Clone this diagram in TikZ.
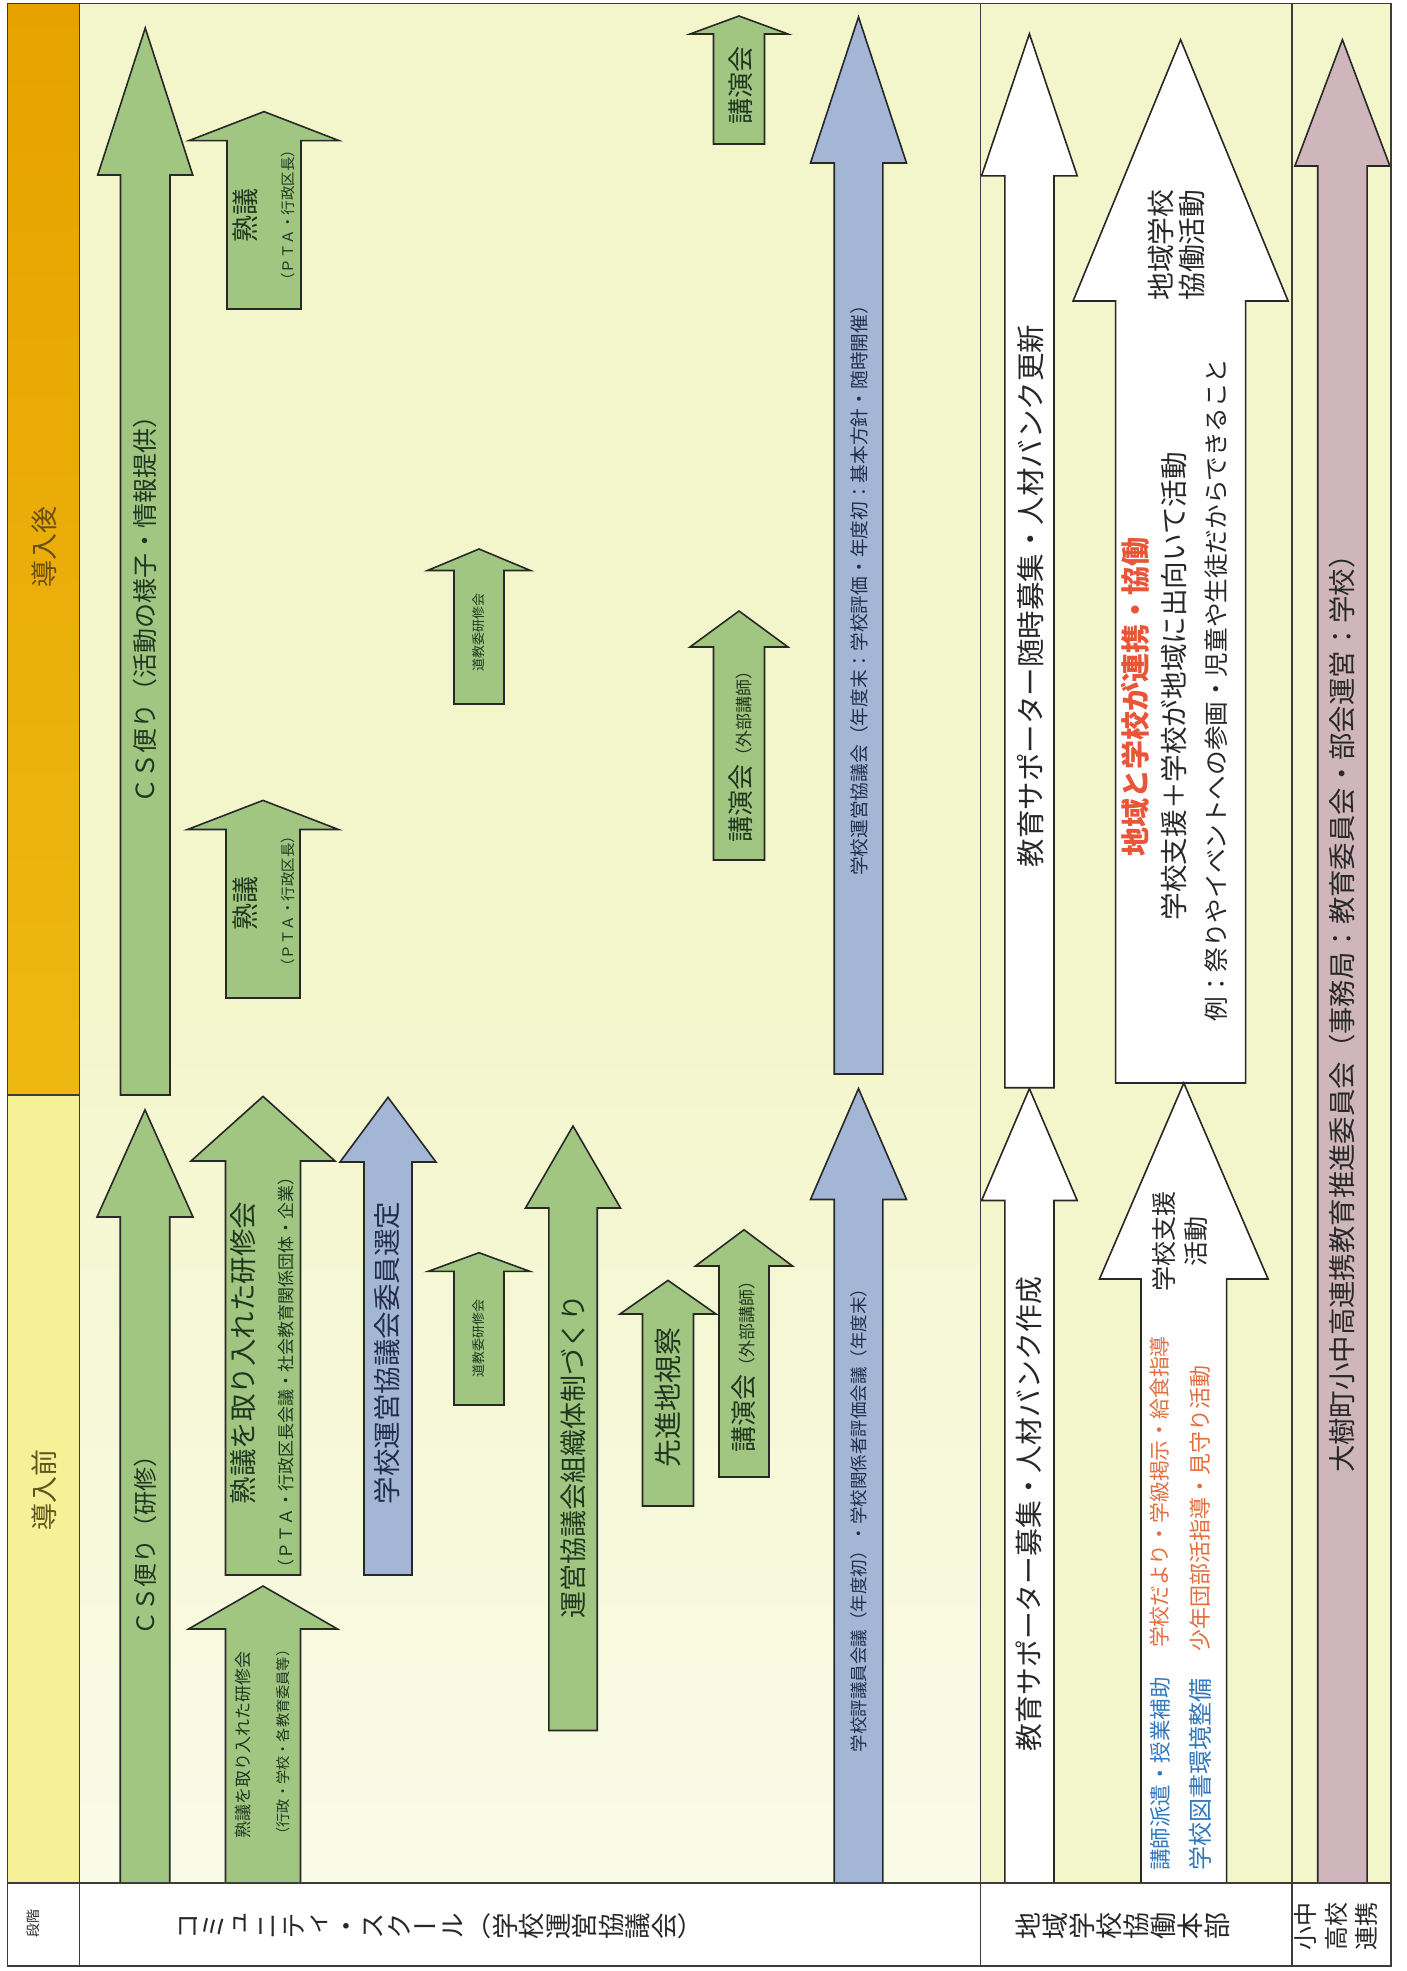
\documentclass[tikz,border=0pt]{standalone}
\usepackage{fontspec}
\setmainfont{Noto Sans CJK JP}
\newfontfamily\tatefont[RawFeature=+vert]{Noto Sans CJK JP}
\usepackage{xcolor}
\usepackage{tikz}

\definecolor{paleyg}{RGB}{243,246,203}
\definecolor{orangeA}{RGB}{231,162,0}
\definecolor{orangeB}{RGB}{238,184,18}
\definecolor{yellowhd}{RGB}{246,240,150}
\definecolor{greenfill}{RGB}{161,198,130}
\definecolor{bluefill}{RGB}{163,182,214}
\definecolor{pinkfill}{RGB}{206,182,188}
\definecolor{edgecol}{RGB}{40,40,40}
\definecolor{gridcol}{RGB}{60,60,60}
\definecolor{inkgray}{RGB}{40,40,40}
\definecolor{inkgreen}{RGB}{30,55,30}
\definecolor{inkblue}{RGB}{35,45,75}
\definecolor{inkred}{RGB}{232,85,55}
\definecolor{inkaqua}{RGB}{50,120,190}
\definecolor{inkorange}{RGB}{225,110,60}
\definecolor{hdbrown}{RGB}{105,80,20}
\definecolor{hdolive}{RGB}{95,85,30}

\newcommand{\fsz}[1]{\fontsize{#1}{#1}\selectfont}
% style, centre x, shaft half width, head half width, tip y, head base y, bottom y
\newcommand{\uparrowbox}[7]{%
  \draw[#1] (#2-#3,#7) -- (#2-#3,#6) -- (#2-#4,#6) -- (#2,#5)
    -- (#2+#4,#6) -- (#2+#3,#6) -- (#2+#3,#7) -- cycle;}

\begin{document}
\begin{tikzpicture}[x=1pt, y=-1pt,
  greenarrow/.style={draw=edgecol, line width=1.6pt, fill=greenfill},
  bluearrow/.style={draw=edgecol, line width=1.6pt, fill=bluefill},
  whitearrow/.style={draw=edgecol, line width=1.6pt, fill=white},
  pinkarrow/.style={draw=edgecol, line width=1.6pt, fill=pinkfill},
  gridline/.style={draw=gridcol, line width=1.4pt},
  lbl/.style={rotate=90, inner sep=0pt, text=inkgray},
  glbl/.style={lbl, text=inkgreen},
  blbl/.style={lbl, text=inkblue},
  tate/.style={rotate=90, inner sep=0pt, text=inkgray, text height=23pt, text depth=3.5pt}]

\useasboundingbox (0,0) rectangle (1407,1971);
\fill[white] (0,0) rectangle (1407,1971);

% backgrounds
\fill[paleyg] (79.5,3.5) rectangle (1391,1883);
\shade[top color=paleyg, bottom color=paleyg!45!white] (79.5,1000) rectangle (980.4,1883);
\shade[top color=orangeA, bottom color=orangeB] (7.3,3.5) rectangle (79.5,1095);
\fill[yellowhd] (7.3,1095) rectangle (79.5,1883);

% arrows after
\uparrowbox{greenarrow}{145.25}{24.75}{47.5}{28}{175}{1095}
\uparrowbox{greenarrow}{264}{37}{75}{111.6}{140.6}{309}
\uparrowbox{greenarrow}{263}{37}{75.5}{800.4}{829.5}{998}
\uparrowbox{greenarrow}{479}{25}{51.5}{549}{570.5}{704}
\uparrowbox{greenarrow}{739}{25.5}{49}{16}{34}{144}
\uparrowbox{greenarrow}{739}{25.5}{49}{611}{647}{860}
\uparrowbox{bluearrow}{858.5}{24.3}{48}{17}{163}{1074}
\uparrowbox{whitearrow}{1029.4}{24.6}{47.8}{33.8}{175.8}{1087.7}
\uparrowbox{whitearrow}{1180.6}{65}{107.5}{39.7}{301}{1083}
\uparrowbox{pinkarrow}{1342.4}{24.7}{47.5}{39.7}{166}{1883}

% arrows before
\uparrowbox{greenarrow}{145}{24.75}{48}{1109.8}{1217}{1883}
\uparrowbox{greenarrow}{263}{37.5}{72}{1096.4}{1161}{1575}
\uparrowbox{greenarrow}{263}{37.5}{74.5}{1586}{1629}{1883}
\uparrowbox{bluearrow}{388}{24}{48}{1097.3}{1162}{1575}
\uparrowbox{greenarrow}{479}{25}{51}{1252.7}{1271.4}{1405}
\uparrowbox{greenarrow}{573}{24.2}{47.5}{1126}{1208}{1730.5}
\uparrowbox{greenarrow}{668}{25.5}{48}{1280.4}{1314}{1506}
\uparrowbox{greenarrow}{744}{25}{48.5}{1229.8}{1266}{1477}
\uparrowbox{bluearrow}{858.5}{24.3}{48}{1088.6}{1199.5}{1883}
\uparrowbox{whitearrow}{1029.4}{24.6}{47.8}{1088.6}{1200.5}{1883}
\uparrowbox{whitearrow}{1183.8}{42.8}{84.3}{1083}{1279}{1883}

% table rules
\draw[gridline] (7.3,3.5) rectangle (1391,1966);
\draw[gridline] (79.5,3.5) -- (79.5,1966);
\draw[gridline] (980.4,3.5) -- (980.4,1966);
\draw[gridline] (1292,3.5) -- (1292,1966);
\draw[gridline] (7.3,1883) -- (1391,1883);
\draw[gridline] (7.3,1095) -- (79.5,1095);

% header column
\node[lbl, text=hdbrown, font=\fsz{27}] (hdAfter) at (44,547) {導入後};
\node[lbl, text=hdolive, font=\fsz{27}] (hdBefore) at (44,1490) {導入前};
\node[lbl, font=\fsz{14}] (hdStage) at (33,1923) {段階};

% row labels, one character each
\foreach \ch [count=\i] in {コ,ミ,ュ,ニ,テ,ィ,・,ス,ク,ー,ル,（,学,校,運,営,協,議,会,）}
  \node[tate, font=\tatefont\fsz{26.5}] (rowCS-\i) at (160.75+26.5*\i,1926) {\ch};
\foreach \ch [count=\i] in {地,域,学,校,協,働,本,部}
  \node[tate, font=\tatefont\fsz{27}] (rowChiiki-\i) at (1001.5+27*\i,1926) {\ch};
\node[lbl, align=center, font=\fontsize{24}{30.5}\selectfont] (rowShochu) at (1336,1926) {小中\\高校\\連携};

% community school, after
\node[glbl, font=\fsz{25}] (csAfter) at (145,603) {ＣＳ便り（活動の様子・情報提供）};
\node[glbl, font=\fsz{27}] (jukugiTop) at (245,215) {熟議};
\node[glbl, font=\fsz{14.5}] (jukugiTopSub) at (288,215) {（ＰＴＡ・行政区長）};
\node[glbl, font=\fsz{27}] (jukugiMid) at (245,903) {熟議};
\node[glbl, font=\fsz{14.5}] (jukugiMidSub) at (288,901) {（ＰＴＡ・行政区長）};
\node[glbl, font=\fsz{13}] (doukyouAfter) at (479,632) {道教委研修会};
\node[glbl, font=\fsz{26}] (kouenTop) at (741,85) {講演会};
\node[glbl] (kouenMid) at (741,752) {{\fsz{26}講演会}{\fsz{17}（外部講師）}};
\node[blbl, font=\fsz{18.7}] (unkyouAfter) at (859,586)
  {学校運営協議会（年度末：学校評価・年度初：基本方針・随時開催）};

% community school, before
\node[glbl, font=\fsz{24}] (csBefore) at (145,1539) {ＣＳ便り（研修）};
\node[glbl, font=\fsz{27.5}] (kenshuTop) at (243,1353) {熟議を取り入れた研修会};
\node[glbl, font=\fsz{17}] (kenshuTopSub) at (286,1372) {（ＰＴＡ・行政区長会議・社会教育関係団体・企業）};
\node[glbl, font=\fsz{17}] (kenshuLow) at (243,1745) {熟議を取り入れた研修会};
\node[glbl, font=\fsz{14.2}] (kenshuLowSub) at (283.5,1742) {（行政・学校・各教育委員等）};
\node[blbl, font=\fsz{27.5}] (iinSentei) at (387,1353) {学校運営協議会委員選定};
\node[glbl, font=\fsz{13}] (doukyouBefore) at (479,1338) {道教委研修会};
\node[glbl, font=\fsz{27}] (soshiki) at (573,1456) {運営協議会組織体制づくり};
\node[glbl, font=\fsz{28}] (senshin) at (668,1397) {先進地視察};
\node[glbl] (kouenLow) at (744,1362) {{\fsz{26}講演会}{\fsz{17}（外部講師）}};
\node[blbl, font=\fsz{17.5}] (hyougiBefore) at (859,1516)
  {学校評議員会議（年度初）・学校関係者評価会議（年度末）};

% chiiki gakko kyodo honbu
\node[lbl, font=\fsz{28.5}] (supAfter) at (1031,596) {教育サポーター随時募集・人材バンク更新};
\node[lbl, font=\fsz{27.8}] (supBefore) at (1029,1514) {教育サポーター募集・人材バンク作成};
\node[lbl, align=center, font=\fontsize{27.8}{31}\selectfont] (kyodoHead) at (1176,245) {地域学校\\協働活動};
\node[lbl, text=inkred, font=\bfseries\fsz{29}] (renkei) at (1135,697) {地域と学校が連携・協働};
\node[lbl, font=\fsz{27.6}] (shienDeko) at (1174,686) {学校支援＋学校が地域に出向いて活動};
\node[lbl, font=\fsz{24.6}] (reiLine) at (1216,690) {例：祭りやイベントへの参画・児童や生徒だからできること};
\node[lbl, align=center, font=\fontsize{25}{32}\selectfont] (shienHead) at (1180,1241) {学校支援\\活動};
\node[lbl, anchor=west, text=inkaqua, font=\fsz{21.5}] (haken) at (1160,1871) {講師派遣・授業補助};
\node[lbl, anchor=west, text=inkorange, font=\fsz{20.8}] (dayori) at (1160,1648) {学校だより・学級掲示・給食指導};
\node[lbl, anchor=west, text=inkaqua, font=\fsz{24}] (tosho) at (1200,1871) {学校図書環境整備};
\node[lbl, anchor=west, text=inkorange, font=\fsz{22}] (shonen) at (1200,1652) {少年団部活指導・見守り活動};

% shochuko renkei
\node[lbl, font=\fsz{27.4}] (taiki) at (1342,1007)
  {大樹町小中高連携教育推進委員会（事務局：教育委員会・部会運営：学校）};

\end{tikzpicture}
\end{document}
